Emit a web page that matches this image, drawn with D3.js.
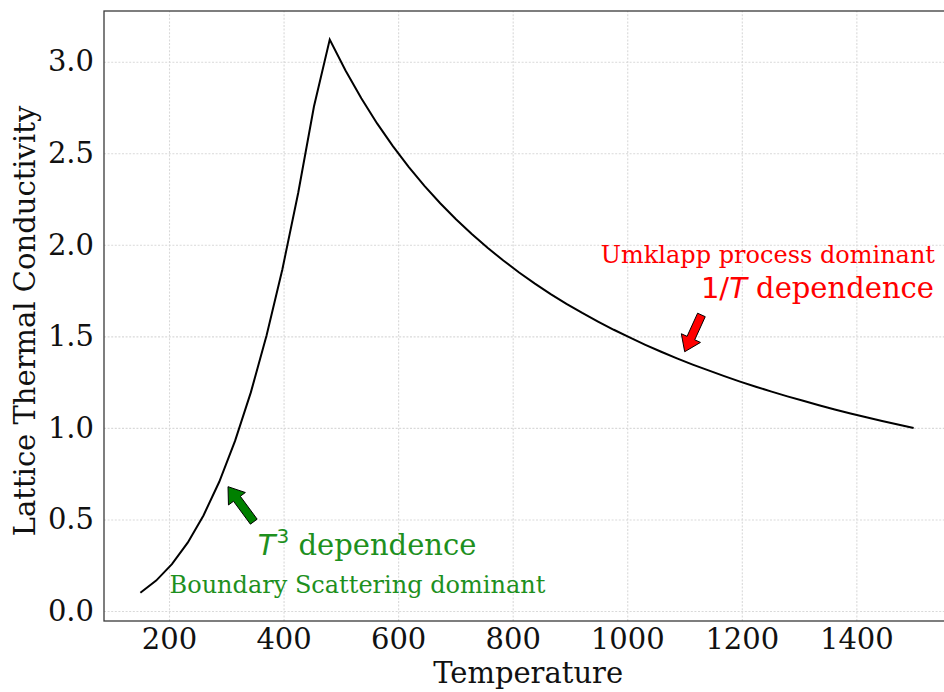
<!DOCTYPE html>
<html><head><meta charset="utf-8">
<script src="https://cdn.jsdelivr.net/npm/d3@7"></script>
<style>body{margin:0;background:#fff}</style>
</head><body><svg id="c" width="944" height="692"></svg>
<script>
const temperatures = [150.00, 177.55, 205.10, 232.65, 260.20, 287.76, 315.31, 342.86, 370.41, 397.96,
  425.51, 453.06, 480.61, 508.16, 535.71, 563.27, 590.82, 618.37, 645.92, 673.47,
  701.02, 728.57, 756.12, 783.67, 811.22, 838.78, 866.33, 893.88, 921.43, 948.98,
  976.53, 1004.08, 1031.63, 1059.18, 1086.73, 1114.29, 1141.84, 1169.39, 1196.94, 1224.49,
  1252.04, 1279.59, 1307.14, 1334.69, 1362.24, 1389.80, 1417.35, 1444.90, 1472.45, 1500.00];
const conductivity = [0.100, 0.166, 0.256, 0.373, 0.522, 0.706, 0.929, 1.194, 1.506, 1.867,
  2.283, 2.755, 3.121, 2.952, 2.800, 2.663, 2.539, 2.426, 2.322, 2.227,
  2.140, 2.059, 1.984, 1.914, 1.849, 1.788, 1.731, 1.678, 1.628, 1.581,
  1.536, 1.494, 1.454, 1.416, 1.380, 1.346, 1.314, 1.283, 1.253, 1.225,
  1.198, 1.172, 1.148, 1.124, 1.101, 1.079, 1.058, 1.038, 1.019, 1.000];
const xTicks = [200, 400, 600, 800, 1000, 1200, 1400];
const yTicks = [0.0, 0.5, 1.0, 1.5, 2.0, 2.5, 3.0];
const xLabel = "Temperature";
const yLabel = "Lattice Thermal Conductivity";

const svg = d3.select("#c");
const L = 104, R = 952.3, T = 11, B = 621;
const x = d3.scaleLinear().domain([86.5, 1567.5]).range([L, R]);
const y = d3.scaleLinear().domain([-0.0546, 3.277]).range([B, T]);
const serif = "'DejaVu Serif', serif";
const sans = "'DejaVu Sans', sans-serif";
const labelSize = 29;

// grid
const gx = svg.append("g").attr("transform", `translate(0,${B})`)
  .call(d3.axisBottom(x).tickValues(xTicks).tickSize(-(B - T)).tickFormat(""));
gx.select(".domain").remove();
const gy = svg.append("g").attr("transform", `translate(${L},0)`)
  .call(d3.axisLeft(y).tickValues(yTicks).tickSize(-(R - L)).tickFormat(""));
gy.select(".domain").remove();
svg.selectAll(".tick line").attr("stroke", "#d9d9d9").attr("stroke-width", 1.1).attr("stroke-dasharray", "2,1.6");

// curve
const line = d3.line().x((d, i) => x(temperatures[i])).y(d => y(d));
svg.append("path").datum(conductivity).attr("d", line)
  .attr("fill", "none").attr("stroke", "#000").attr("stroke-width", 2).attr("stroke-linejoin", "miter");

// tick labels
const ax = svg.append("g").attr("transform", `translate(0,${B})`)
  .call(d3.axisBottom(x).tickValues(xTicks).tickSize(0).tickPadding(7.5).tickFormat(d3.format("d")));
const ay = svg.append("g").attr("transform", `translate(${L},0)`)
  .call(d3.axisLeft(y).tickValues(yTicks).tickSize(0).tickPadding(10).tickFormat(d3.format(".1f")));
[ax, ay].forEach(g => {
  g.select(".domain").remove();
  g.selectAll("text").attr("font-family", serif).attr("font-size", labelSize).attr("fill", "#111");
});

// spines
svg.append("rect").attr("x", L).attr("y", T).attr("width", R - L).attr("height", B - T)
  .attr("stroke", "#3a3a3a").attr("stroke-width", 1.3).attr("fill", "none");

svg.append("text").attr("x", (L + R) / 2).attr("y", 683).attr("text-anchor", "middle")
  .attr("font-family", serif).attr("font-size", labelSize).attr("fill", "#111").text(xLabel);
svg.append("text").attr("transform", `translate(35,${(T + B) / 2 + 5}) rotate(-90)`).attr("text-anchor", "middle")
  .attr("font-family", serif).attr("font-size", labelSize).attr("fill", "#111").text(yLabel);

// annotations
function arrow(tail, tip, fill) {
  const x0 = x(tail[0]), y0 = y(tail[1]), x1 = x(tip[0]), y1 = y(tip[1]);
  const dx = x1 - x0, dy = y1 - y0, len = Math.hypot(dx, dy);
  const ux = dx / len, uy = dy / len, px = -uy, py = ux;
  const w = 4.2, hw = 10.5, hl = 15;
  const bx = x1 - ux * hl, by = y1 - uy * hl;
  const pts = [
    [x0 + px * w, y0 + py * w], [bx + px * w, by + py * w], [bx + px * hw, by + py * hw],
    [x1, y1], [bx - px * hw, by - py * hw], [bx - px * w, by - py * w], [x0 - px * w, y0 - py * w]];
  svg.append("polygon").attr("points", pts.map(p => p.join(",")).join(" "))
    .attr("fill", fill).attr("stroke", "#000").attr("stroke-width", 1).attr("stroke-linejoin", "miter");
}
arrow([348, 0.488], [303, 0.679], "#008000");
arrow([1129.5, 1.617], [1100.3, 1.416], "#ff0000");

const greenText = "#1e901e";
const t1 = svg.append("text").attr("x", x(355)).attr("y", y(0.306)).attr("fill", greenText).attr("font-size", 29);
t1.append("tspan").attr("font-family", sans).attr("font-style", "italic").text("T");
t1.append("tspan").attr("font-family", sans).attr("font-size", 20).attr("dy", -12).attr("dx", 1).text("3");
t1.append("tspan").attr("font-family", serif).attr("dy", 12).text(" dependence");
svg.append("text").attr("x", x(201)).attr("y", y(0.098)).attr("fill", greenText)
  .attr("font-family", serif).attr("font-size", 24).text("Boundary Scattering dominant");

const t2 = svg.append("text").attr("x", 934).attr("y", 298).attr("text-anchor", "end").attr("fill", "#ff0000").attr("font-size", 29);
t2.append("tspan").attr("font-family", sans).text("1/");
t2.append("tspan").attr("font-family", sans).attr("font-style", "italic").text("T");
t2.append("tspan").attr("font-family", serif).text(" dependence");
svg.append("text").attr("x", 935).attr("y", 263).attr("text-anchor", "end").attr("fill", "#ff0000")
  .attr("font-family", serif).attr("font-size", 24).text("Umklapp process dominant");
</script></body></html>
